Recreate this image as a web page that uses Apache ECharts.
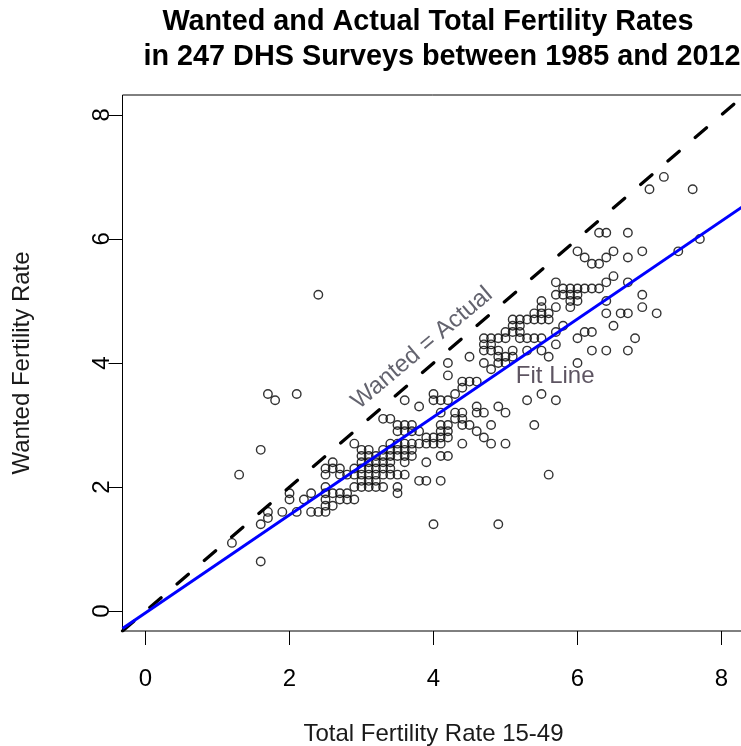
<!DOCTYPE html>
<html><head><meta charset="utf-8">
<script src="https://cdn.jsdelivr.net/npm/echarts@6/dist/echarts.min.js"></script>
<style>html,body{margin:0;padding:0;background:#fff}#c{width:741px;height:746px}</style>
</head><body><div id="c"></div>
<script>
const titleLine1 = 'Wanted and Actual Total Fertility Rates';
const titleLine2 = ' in 247 DHS Surveys between 1985 and 2012';
const xAxisTitle = 'Total Fertility Rate 15-49';
const yAxisTitle = 'Wanted Fertility Rate';
const xTicks = [0, 2, 4, 6, 8];
const yTicks = [0, 2, 4, 6, 8];
const axisRange = [-0.32, 8.32];

// Total fertility rate (x) and wanted fertility rate (y) per survey
const actualTFR = [
 1.2,1.3,1.6,1.6,1.6,1.7,1.7,1.7,1.8,1.9,
 2.0,2.0,2.1,2.1,2.2,2.3,2.3,2.4,2.4,2.5,
 2.5,2.5,2.5,2.5,2.5,2.5,2.6,2.6,2.6,2.6,
 2.7,2.7,2.7,2.7,2.8,2.8,2.8,2.9,2.9,2.9,
 2.9,2.9,3.0,3.0,3.0,3.0,3.0,3.0,3.1,3.1,
 3.1,3.1,3.1,3.1,3.2,3.2,3.2,3.2,3.2,3.3,
 3.3,3.3,3.3,3.3,3.4,3.4,3.4,3.4,3.3,3.4,
 3.4,3.5,3.5,3.5,3.5,3.5,3.5,3.5,3.5,3.6,
 3.6,3.6,3.6,3.6,3.6,3.6,3.7,3.7,3.7,3.7,
 3.7,3.8,3.8,3.8,3.8,3.9,3.9,3.9,4.0,4.0,
 4.0,4.0,4.0,4.1,4.1,4.1,4.1,4.1,4.1,4.2,
 4.2,4.2,4.2,4.2,4.2,4.2,4.3,4.3,4.3,4.4,
 4.4,4.4,4.4,4.4,4.5,4.5,4.5,4.6,4.6,4.6,
 4.6,4.7,4.7,4.7,4.7,4.7,4.7,4.8,4.8,4.8,
 4.8,4.8,4.9,4.9,4.9,4.9,4.9,4.8,5.0,5.0,
 5.0,5.0,5.0,5.0,5.1,5.1,5.1,5.1,5.1,5.2,
 5.2,5.2,5.3,5.3,5.3,5.4,5.4,5.4,5.4,5.5,
 5.5,5.5,5.5,5.5,5.5,5.5,5.6,5.6,5.6,5.7,
 5.7,5.7,5.7,5.7,5.7,5.8,5.8,5.8,5.9,5.9,
 5.9,5.9,6.0,6.0,6.0,6.0,6.0,6.0,6.1,6.1,
 6.1,6.2,6.2,6.2,6.2,6.3,6.3,6.3,6.4,6.4,
 6.4,6.4,6.4,6.4,6.5,6.5,6.5,6.6,6.7,6.7,
 6.7,6.7,6.7,6.8,6.9,6.9,6.9,7.0,7.1,7.2,
 7.4,7.6,7.7,3.3,3.4,3.1,3.2,3.0,4.1,4.1,
 4.4,5.2,5.3,4.9,5.6,3.9,3.6
];
const wantedTFR = [
 1.1,2.2,0.8,1.4,2.6,1.5,1.6,3.5,3.4,1.6,
 1.8,1.9,1.6,3.5,1.8,1.6,1.9,1.6,5.1,1.6,
 1.7,1.8,1.9,2.0,2.2,2.3,1.7,1.9,2.3,2.4,
 1.8,1.9,2.2,2.3,1.8,1.9,2.2,1.8,2.0,2.2,
 2.3,2.7,2.6,2.4,2.3,2.2,2.1,2.0,2.5,2.4,
 2.3,2.2,2.1,2.0,2.5,2.4,2.3,2.2,2.1,2.6,
 2.4,2.3,2.2,3.1,3.1,2.7,2.6,2.3,2.0,2.4,
 2.2,3.0,2.9,2.7,2.6,2.5,2.2,2.0,1.9,3.4,
 3.0,2.9,2.7,2.6,2.5,2.2,3.0,2.9,2.7,2.6,
 2.5,3.3,2.9,2.7,2.1,2.4,2.1,2.8,3.5,3.4,
 2.8,2.7,1.4,3.4,3.2,2.8,2.7,2.5,2.1,4.0,
 3.8,3.4,3.0,2.9,2.8,2.5,3.5,3.2,3.1,3.7,
 3.6,3.1,2.7,3.0,4.1,3.7,3.0,3.7,3.3,3.2,
 2.9,4.4,4.3,4.2,4.0,3.2,2.8,4.4,4.3,4.2,
 3.0,2.7,4.2,4.1,4.0,3.3,1.4,3.9,4.5,4.4,
 4.1,4.0,3.2,2.7,4.7,4.6,4.5,4.1,4.2,4.7,
 4.6,4.4,4.4,4.2,3.4,4.8,4.7,4.4,3.0,5.0,
 4.9,4.8,4.7,4.4,4.2,3.5,4.7,4.1,2.2,5.3,
 5.1,4.9,4.5,4.3,3.4,5.2,5.1,4.6,5.2,5.1,
 5.0,4.9,5.8,5.2,5.1,5.0,4.4,4.0,5.7,5.2,
 4.5,5.6,5.2,4.5,4.2,6.1,5.6,5.2,6.1,5.7,
 5.3,5.0,4.8,4.2,5.8,5.4,4.6,4.8,6.1,5.7,
 5.3,4.8,4.2,4.4,5.8,5.1,4.9,6.8,4.8,7.0,
 5.8,6.8,6.0,2.5,2.5,2.6,2.0,2.5,3.0,2.9,
 3.2,4.5,4.7,4.4,4.8,2.7,2.4
];

// Reference lines (end points, across the full plot range)
const equalityLineX = [-0.32, 8.32];
const equalityLineY = [-0.32, 8.32];
const fitLineX = [-0.32, 8.32];
const fitLineY = [-0.28, 6.54];

// Annotations
const annotationText = ['Wanted = Actual', 'Fit Line'];
const annotationX = [3.84, 5.69];
const annotationY = [4.24, 3.79];

const FONT = '"Liberation Sans", Arial, sans-serif';
const chart = echarts.init(document.getElementById('c'), null, {renderer: 'canvas'});

const points = actualTFR.map((x, i) => [x, wantedTFR[i]]);
const eqLine = equalityLineX.map((x, i) => [x, equalityLineY[i]]);
const fitLine = fitLineX.map((x, i) => [x, fitLineY[i]]);

const axisCommon = {
  type: 'value',
  min: axisRange[0],
  max: axisRange[1],
  axisLine: {show: false, onZero: false},
  splitLine: {show: false},
  axisTick: {show: true, inside: false, length: 14, lineStyle: {color: '#000', width: 1}},
  nameLocation: 'middle',
  nameTextStyle: {fontFamily: FONT, fontSize: 24, color: '#1a1a1a'}
};

chart.setOption({
  animation: false,
  backgroundColor: '#fff',
  title: [
    {text: titleLine1, left: 423, top: 3, textAlign: 'center',
     textStyle: {fontFamily: FONT, fontSize: 28.8, fontWeight: 'bold', color: '#000'}},
    {text: titleLine2, left: 433, top: 38, textAlign: 'center',
     textStyle: {fontFamily: FONT, fontSize: 28.8, fontWeight: 'bold', color: '#000'}}
  ],
  grid: {left: 122.5, top: 95, width: 622, height: 536, show: true, containLabel: false,
         outerBoundsMode: 'none',
         borderColor: '#000', borderWidth: 1, backgroundColor: 'transparent'},
  xAxis: Object.assign({}, axisCommon, {
    name: xAxisTitle, nameGap: 91,
    axisTick: Object.assign({}, axisCommon.axisTick, {customValues: xTicks}),
    axisLabel: {customValues: xTicks, margin: 36, fontFamily: FONT, fontSize: 24, color: '#000'}
  }),
  yAxis: Object.assign({}, axisCommon, {
    name: yAxisTitle, nameGap: 88,
    axisTick: Object.assign({}, axisCommon.axisTick, {customValues: yTicks}),
    axisLabel: {customValues: yTicks, margin: 8, rotate: 90, fontFamily: FONT, fontSize: 24, color: '#000'}
  }),
  series: [
    {type: 'scatter', name: 'Surveys', data: points, symbol: 'circle', symbolSize: 8.5,
     itemStyle: {color: 'rgba(0,0,0,0)', borderColor: '#000', borderWidth: 1.4}, z: 2, silent: true},
    {type: 'line', name: 'Wanted = Actual', data: eqLine, showSymbol: false, symbol: 'none',
     lineStyle: {color: '#000', width: 3.2, type: [15, 21], cap: 'round'}, z: 3, silent: true},
    {type: 'line', name: 'Fit Line', data: fitLine, showSymbol: false, symbol: 'none',
     lineStyle: {color: '#0000ff', width: 3}, z: 4, silent: true},
    {type: 'scatter', name: 'labels', symbolSize: 1, z: 5, silent: true,
     itemStyle: {color: 'rgba(0,0,0,0)'},
     data: annotationText.map((t, i) => ({
       value: [annotationX[i], annotationY[i]],
       label: {show: true, position: 'inside', formatter: t, rotate: i === 0 ? 40 : 0,
               fontFamily: FONT, fontSize: 24, color: i === 0 ? '#3c3c4a' : '#35293a'}
     }))}
  ]
});
</script></body></html>
